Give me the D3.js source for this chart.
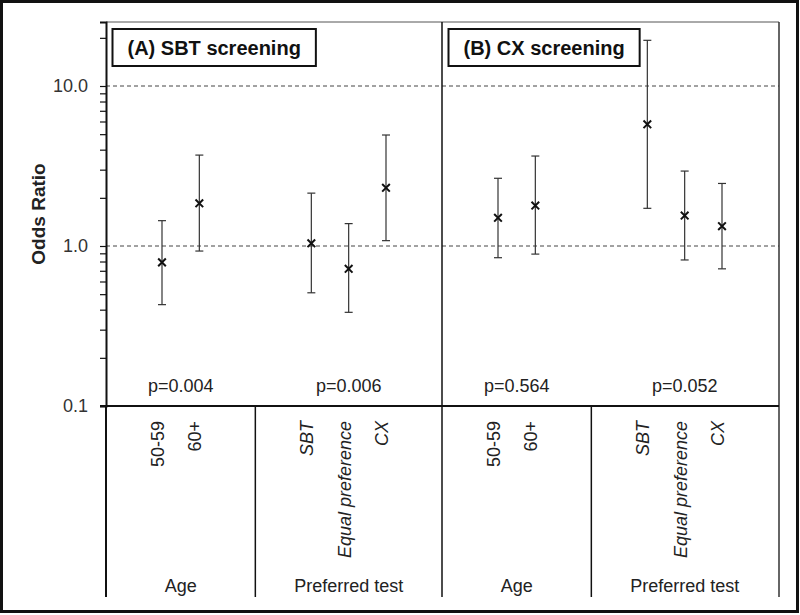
<!DOCTYPE html>
<html>
<head>
<meta charset="utf-8">
<script src="https://cdn.jsdelivr.net/npm/d3@7"></script>
<style>
  html, body { margin: 0; padding: 0; background: #fff; }
  svg { display: block; }
  text { font-family: "Liberation Sans", Arial, sans-serif; }
</style>
</head>
<body>
<svg id="chart" width="800" height="615"></svg>
<script>
// ---- data ----
const panelTitles = ["(A) SBT screening", "(B) CX screening"];
const groupNames = ["Age", "Preferred test"];
const groupCategories = [["50-59", "60+"], ["SBT", "Equal preference", "CX"]];
const categories = ["50-59", "60+", "SBT", "Equal preference", "CX"];
const oddsA = [0.79, 1.85, 1.04, 0.72, 2.31];
const lowA  = [0.43, 0.93, 0.51, 0.385, 1.08];
const highA = [1.44, 3.70, 2.14, 1.38, 4.94];
const oddsB = [1.50, 1.79, 5.76, 1.55, 1.33];
const lowB  = [0.845, 0.89, 1.72, 0.818, 0.72];
const highB = [2.65, 3.65, 19.3, 2.94, 2.46];
const pLabelsA = ["p=0.004", "p=0.006"];
const pLabelsB = ["p=0.564", "p=0.052"];
const majorTicks = [0.1, 1, 10];
const minorTicks = [0.2, 0.3, 0.4, 0.5, 0.6, 0.7, 0.8, 0.9, 2, 3, 4, 5, 6, 7, 8, 9, 20];
const yLabel = "Odds Ratio";

const panels = [
  {title: panelTitles[0], odds: oddsA, low: lowA, high: highA, p: pLabelsA},
  {title: panelTitles[1], odds: oddsB, low: lowB, high: highB, p: pLabelsB}
];

(function draw() {
// ---- layout ----
const svg = d3.select("#chart");
const pLeft = 106, pRight = 778, pTop = 22, axisBottom = 406, catBottom = 597;

// slots: for each panel, each group = blank + categories + blank
const slots = [];
panels.forEach((p, pi) => {
  groupCategories.forEach((cats, gi) => {
    slots.push(`b-${pi}-${gi}-s`);
    cats.forEach(c => slots.push(`${pi}|${c}`));
    slots.push(`b-${pi}-${gi}-e`);
  });
});
const x = d3.scaleBand().domain(slots).range([pLeft, pRight]).padding(0);
const cx = (pi, c) => x(`${pi}|${c}`) + x.bandwidth() / 2;

const y = d3.scaleLog().domain([0.1, 25.12]).range([axisBottom, pTop]);

// outer frame
svg.append("rect").attr("x", 1.5).attr("y", 1.5).attr("width", 796).attr("height", 610)
  .attr("fill", "none").attr("stroke", "#111").attr("stroke-width", 3);

// gridlines
svg.append("g").selectAll("line").data([1, 10]).join("line")
  .attr("x1", pLeft).attr("x2", pRight + 1)
  .attr("y1", d => y(d)).attr("y2", d => y(d))
  .attr("stroke", "#444").attr("stroke-width", 1).attr("stroke-dasharray", "4,3");

// plot frame: top, right
svg.append("line").attr("x1", pLeft).attr("x2", pRight + 1).attr("y1", pTop).attr("y2", pTop)
  .attr("stroke", "#555").attr("stroke-width", 1);
svg.append("line").attr("x1", pRight + 1).attr("x2", pRight + 1).attr("y1", pTop).attr("y2", catBottom)
  .attr("stroke", "#333").attr("stroke-width", 1.5);

// panel divider
const panelSplit = x(`b-1-0-s`);
svg.append("line").attr("x1", panelSplit).attr("x2", panelSplit).attr("y1", pTop).attr("y2", catBottom)
  .attr("stroke", "#111").attr("stroke-width", 1.5);

// group dividers in category area
panels.forEach((p, pi) => {
  const gx = x(`b-${pi}-1-s`);
  svg.append("line").attr("x1", gx).attr("x2", gx).attr("y1", axisBottom).attr("y2", catBottom)
    .attr("stroke", "#111").attr("stroke-width", 1.5);
});

// left line extension
svg.append("line").attr("x1", pLeft).attr("x2", pLeft).attr("y1", axisBottom).attr("y2", catBottom)
  .attr("stroke", "#111").attr("stroke-width", 2);

// bottom axis line at 0.1
svg.append("line").attr("x1", pLeft - 6).attr("x2", pRight + 1).attr("y1", axisBottom).attr("y2", axisBottom)
  .attr("stroke", "#111").attr("stroke-width", 2);

// y axis
const yAxis = d3.axisLeft(y)
  .tickValues(majorTicks.concat(minorTicks))
  .tickSize(6).tickPadding(12)
  .tickFormat(d => majorTicks.includes(d) ? d3.format(".1f")(d) : "");
const ga = svg.append("g").attr("transform", `translate(${pLeft},0)`).call(yAxis);
ga.select(".domain").attr("stroke", "#111").attr("stroke-width", 2);
ga.selectAll(".tick line").attr("stroke", "#111").attr("stroke-width", 1.2);
ga.selectAll(".tick text").attr("font-size", 18).attr("fill", "#333")
  .attr("font-family", "'Liberation Sans', Arial, sans-serif");

// y label
svg.append("text")
  .attr("transform", `translate(45,${(pTop + axisBottom) / 2}) rotate(-90)`)
  .attr("text-anchor", "middle").attr("font-size", 19).attr("font-weight", "bold").attr("fill", "#222")
  .text(yLabel);

// panels
panels.forEach((p, pi) => {
  const g = svg.append("g");
  const rows = categories.map((c, i) => ({c, or: p.odds[i], lo: p.low[i], hi: p.high[i]}));

  // error bars
  g.selectAll(".eb").data(rows).join("line")
    .attr("x1", d => cx(pi, d.c)).attr("x2", d => cx(pi, d.c))
    .attr("y1", d => y(d.lo)).attr("y2", d => y(d.hi))
    .attr("stroke", "#333").attr("stroke-width", 1.2);
  ["lo", "hi"].forEach(k => {
    g.selectAll(".cap-" + k).data(rows).join("line")
      .attr("x1", d => cx(pi, d.c) - 4).attr("x2", d => cx(pi, d.c) + 4)
      .attr("y1", d => y(d[k])).attr("y2", d => y(d[k]))
      .attr("stroke", "#333").attr("stroke-width", 1.2);
  });
  // markers
  const sym = d3.symbol().type(d3.symbolX).size(40);
  g.selectAll(".mk").data(rows).join("path")
    .attr("transform", d => `translate(${cx(pi, d.c)},${y(d.or)})`)
    .attr("d", sym)
    .attr("fill", "none").attr("stroke", "#111").attr("stroke-width", 2);

  // category labels
  g.selectAll(".cl").data(rows).join("text")
    .attr("transform", d => `translate(${cx(pi, d.c) + 2},421) rotate(-90)`)
    .attr("text-anchor", "end")
    .attr("font-size", 18).attr("fill", "#222")
    .attr("font-style", d => groupCategories[1].includes(d.c) ? "italic" : "normal")
    .text(d => d.c);

  // group labels and p-values
  groupCategories.forEach((cats, gi) => {
    const gx0 = x(`b-${pi}-${gi}-s`);
    const gx1 = x(`b-${pi}-${gi}-e`) + x.bandwidth();
    const mid = (gx0 + gx1) / 2;
    g.append("text").attr("x", mid).attr("y", 592).attr("text-anchor", "middle")
      .attr("font-size", 18).attr("fill", "#222").text(groupNames[gi]);
    g.append("text").attr("x", mid).attr("y", 392).attr("text-anchor", "middle")
      .attr("font-size", 18).attr("fill", "#222").text(p.p[gi]);
  });

  // title box
  const px0 = x(`b-${pi}-0-s`);
  const t = g.append("text")
    .attr("font-family", "Lato, 'Open Sans', sans-serif").attr("font-weight", "bold")
    .attr("font-size", 20).attr("fill", "#111")
    .attr("text-anchor", "middle")
    .text(p.title);
  const tw = t.node().getComputedTextLength();
  const bw = tw + 30, bx = px0 + 6.5;
  t.attr("x", bx + bw / 2).attr("y", 55);
  g.insert("rect", "text").attr("x", bx).attr("y", 29).attr("width", bw).attr("height", 37)
    .attr("fill", "#fff").attr("stroke", "#111").attr("stroke-width", 2);
});
})();
</script>
</body>
</html>
